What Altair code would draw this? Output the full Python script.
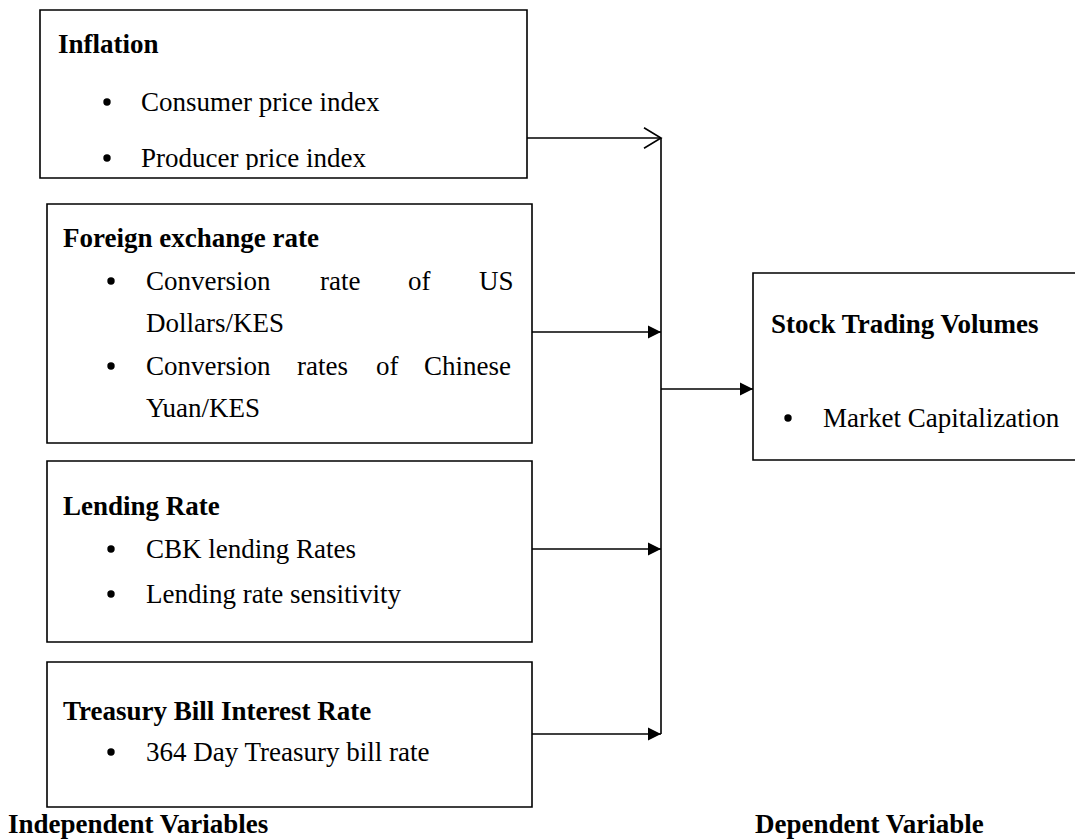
import altair as alt
import pandas as pd

# ---- content ----
headings = ["Inflation", "Foreign exchange rate", "Lending Rate",
            "Treasury Bill Interest Rate", "Stock Trading Volumes"]
items_inflation = ["Consumer price index", "Producer price index"]
items_lending = ["CBK lending Rates", "Lending rate sensitivity"]
items_treasury = ["364 Day Treasury bill rate"]
items_dependent = ["Market Capitalization"]
fx_line1_words = ["Conversion", "rate", "of", "US"]
fx_line2 = ["Dollars/KES"]
fx_line3_words = ["Conversion", "rates", "of", "Chinese"]
fx_line4 = ["Yuan/KES"]
footer_labels = ["Independent Variables", "Dependent Variable"]

# ---- layout (page pixel coordinates) ----
boxes = pd.DataFrame({
    "x1": [40, 47, 47, 47, 753],
    "y1": [10, 204, 461, 662, 273],
    "x2": [527, 532, 532, 532, 1090],
    "y2": [178, 443, 642, 807, 460],
})

head_df = pd.DataFrame({
    "text": headings,
    "x": [58, 63, 63, 63, 771],
    "y": [53, 247, 515, 720, 333],
})

body_text = (items_inflation + fx_line1_words + fx_line2 + fx_line3_words + fx_line4
             + items_lending + items_treasury + items_dependent)
body_x = ([141, 141] + [146, 320, 408, 479] + [146] + [146, 297, 376, 424] + [146]
          + [146, 146] + [146] + [823])
body_y = ([111, 167] + [290] * 4 + [332] + [375] * 4 + [417]
          + [558, 603] + [761] + [427])
body_df = pd.DataFrame({"text": body_text, "x": body_x, "y": body_y})

bullet_df = pd.DataFrame({
    "x": [107, 107, 111, 111, 111, 111, 111, 788],
    "y": [102, 158, 281, 366, 549, 594, 752, 418],
})

foot_df = pd.DataFrame({"text": footer_labels, "x": [8, 755], "y": [833, 833]})

lines_df = pd.DataFrame({
    "x1": [527, 661, 532, 532, 532, 661],
    "y1": [138, 138, 332, 549, 734, 389],
    "x2": [661, 661, 661, 661, 661, 753],
    "y2": [138, 734, 332, 549, 734, 389],
})

heads_filled = pd.DataFrame({"x": [661, 661, 661, 753], "y": [332, 549, 734, 389]})
heads_open = pd.DataFrame({"x": [661], "y": [138]})

# mask that hides the cut-off bottom of the "Producer price index" line
mask_df = pd.DataFrame({"x1": [100], "x2": [420], "y1": [170], "y2": [177]})

W, H = 1067, 832
xs = alt.Scale(domain=[8, 8 + W], nice=False, zero=False)
ys = alt.Scale(domain=[8, 8 + H], reverse=True, nice=False, zero=False)
FONT = "Liberation Serif"

def X(f):
    return alt.X(f, type="quantitative", scale=xs, axis=None)

def Y(f):
    return alt.Y(f, type="quantitative", scale=ys, axis=None)

rects = alt.Chart(boxes).mark_rect(fill=None, stroke="black", strokeWidth=1.6).encode(
    x=X("x1"), x2="x2", y=Y("y1"), y2="y2")

rules = alt.Chart(lines_df).mark_rule(color="black", strokeWidth=1.6).encode(
    x=X("x1"), x2="x2", y=Y("y1"), y2="y2")

arrow_filled = alt.Chart(heads_filled).mark_point(
    shape="M 0 0 L -1 -0.5 L -1 0.5 Z", filled=True, color="black", opacity=1,
    size=676).encode(x=X("x"), y=Y("y"))

arrow_open = alt.Chart(heads_open).mark_point(
    shape="M -1 -0.6 L 0 0 L -1 0.6", filled=False, color="black", opacity=1,
    strokeWidth=1.6, size=1156).encode(x=X("x"), y=Y("y"))

heads = alt.Chart(head_df).mark_text(
    font=FONT, fontSize=27, fontWeight="bold", align="left", baseline="alphabetic",
    color="black").encode(x=X("x"), y=Y("y"), text="text")

body = alt.Chart(body_df).mark_text(
    font=FONT, fontSize=27, align="left", baseline="alphabetic",
    color="black").encode(x=X("x"), y=Y("y"), text="text")

mask = alt.Chart(mask_df).mark_rect(fill="white", stroke=None).encode(
    x=X("x1"), x2="x2", y=Y("y1"), y2="y2")

bullets = alt.Chart(bullet_df).mark_point(
    shape="circle", filled=True, color="black", opacity=1, size=55).encode(
    x=X("x"), y=Y("y"))

footer = alt.Chart(foot_df).mark_text(
    font=FONT, fontSize=27, fontWeight="bold", align="left", baseline="alphabetic",
    color="black").encode(x=X("x"), y=Y("y"), text="text")

chart = alt.layer(rules, arrow_filled, arrow_open, heads, body, mask, rects,
                  bullets, footer).properties(
    width=W, height=H, padding=0, background="white",
    autosize=alt.AutoSizeParams(type="none")
).configure_view(stroke=None)

chart.save("out.html", embed_options={"renderer": "svg", "actions": False})
